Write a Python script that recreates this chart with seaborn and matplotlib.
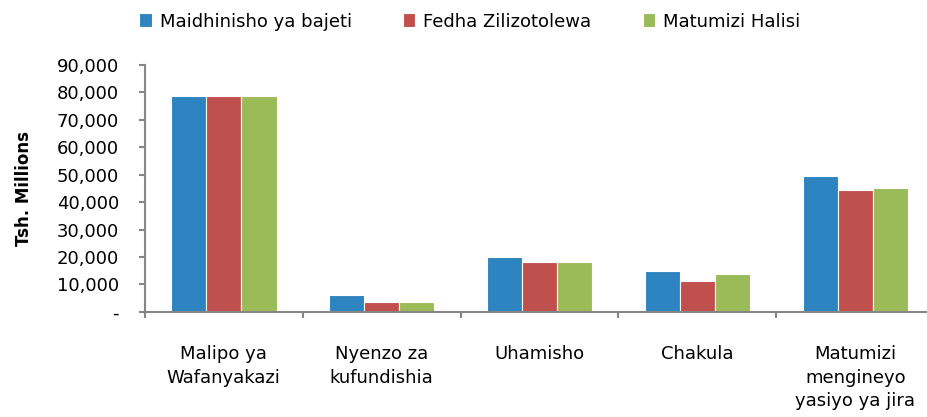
import matplotlib.pyplot as plt
import matplotlib.ticker as ticker
import seaborn as sns
import pandas as pd

categories = [
    "Malipo ya\nWafanyakazi",
    "Nyenzo za\nkufundishia",
    "Uhamisho",
    "Chakula",
    "Matumizi\nmengineyo\nyasiyo ya jira",
]
series = ["Maidhinisho ya bajeti", "Fedha Zilizotolewa", "Matumizi Halisi"]
bajeti = [78800, 6000, 20000, 15000, 49600]
zilizotolewa = [78800, 3500, 18100, 11200, 44500]
halisi = [78800, 3500, 18100, 13700, 45100]
colors = ["#2E84C0", "#C0504D", "#9BBB59"]

sns.set_theme(style="white")
plt.rcParams["font.family"] = ["DejaVu Sans"]
plt.rcParams["text.color"] = "black"
plt.rcParams["xtick.labelcolor"] = "black"
plt.rcParams["ytick.labelcolor"] = "black"
plt.rcParams["axes.labelcolor"] = "black"

rows = []
for name, vals in zip(series, [bajeti, zilizotolewa, halisi]):
    for cat, v in zip(categories, vals):
        rows.append({"cat": cat, "series": name, "value": v})
df = pd.DataFrame(rows)

fig = plt.figure(figsize=(9.27, 4.17), dpi=100)
ax = fig.add_axes([0.156, 0.252, 0.852, 0.592])

sns.barplot(
    data=df, x="cat", y="value", hue="series", order=categories,
    hue_order=series, palette=colors, width=0.67, saturation=1,
    edgecolor="white", linewidth=0.8, ax=ax,
)

ax.set_xlim(-0.5, 4.5)
ax.set_ylim(0, 90000)
ax.yaxis.set_major_locator(ticker.MultipleLocator(10000))
ax.yaxis.set_major_formatter(
    ticker.FuncFormatter(lambda v, p: "-" if v == 0 else format(int(v), ","))
)
ax.set_xticks(range(len(categories)))
ax.set_xticklabels(categories, fontsize=13, va="top", linespacing=1.4)
ax.set_xticks([i - 0.5 for i in range(len(categories) + 1)], minor=True)
ax.tick_params(axis="x", which="major", length=0, pad=24)
ax.tick_params(axis="x", which="minor", bottom=True, length=4.5, width=1.5, color="#868686")
ax.tick_params(axis="y", left=True, length=4.5, width=1.5, color="#868686",
               labelsize=13, pad=14)

for side in ["top", "right"]:
    ax.spines[side].set_visible(False)
for side in ["left", "bottom"]:
    ax.spines[side].set_color("#868686")
    ax.spines[side].set_linewidth(1.5)

ax.set_xlabel("")
ax.set_ylabel("Tsh. Millions", fontsize=12, fontweight="bold", labelpad=17)
ax.grid(False)

handles, labels = ax.get_legend_handles_labels()
ax.get_legend().remove()
fig.legend(handles, labels, loc="upper center", bbox_to_anchor=(0.507, 1.0),
           ncol=3, frameon=False, fontsize=13, handlelength=0.67,
           handleheight=0.8, handletextpad=0.45, columnspacing=2.85,
           borderaxespad=0.3)

fig.savefig("out.png", dpi=100)
